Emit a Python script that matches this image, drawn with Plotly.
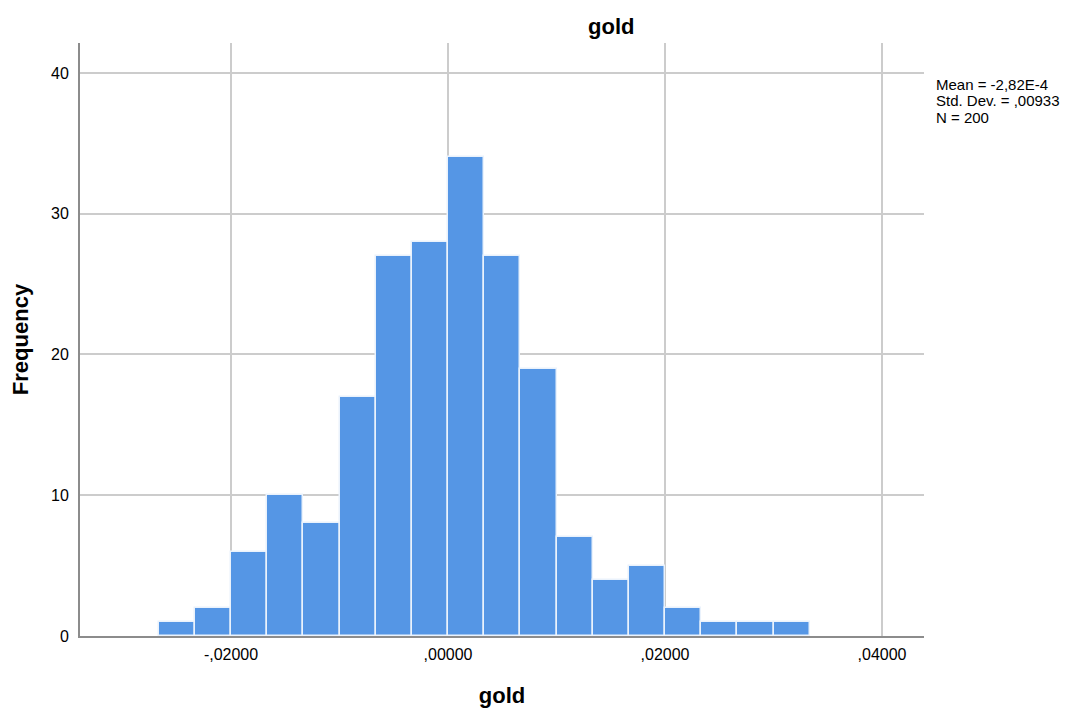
import plotly.graph_objects as go

# Data
bin_start = -0.0266667
bin_width = 0.0033333
counts = [1, 2, 6, 10, 8, 17, 27, 28, 34, 27, 19, 7, 4, 5, 2, 1, 1, 1]
x_tick_vals = [-0.02, 0.0, 0.02, 0.04]
x_tick_text = ["-,02000", ",00000", ",02000", ",04000"]
y_tick_vals = [0, 10, 20, 30, 40]
stats_lines = ["Mean = -2,82E-4", "Std. Dev. = ,00933", "N = 200"]

centers = [bin_start + bin_width * (i + 0.5) for i in range(len(counts))]

fig = go.Figure()
fig.add_trace(go.Bar(
    x=centers, y=counts, width=[bin_width] * len(counts),
    marker=dict(color="#5596E5", line=dict(color="#EAF2FC", width=1.5)),
    showlegend=False, hoverinfo="x+y",
))

font_family = "Liberation Sans, Arial, sans-serif"

# page body has an 8px margin, so the figure is sized/offset accordingly
W, H = 1061, 701
ML, MR, MT, MB = 72, 145, 35, 73
plot_w = W - ML - MR
plot_h = H - MT - MB

annotations = [
    dict(text="<b>gold</b>", x=(611 - 80) / plot_w, y=(636 - 26) / plot_h,
         xref="paper", yref="paper", xanchor="center", yanchor="middle",
         showarrow=False, font=dict(size=22)),
]
for i, line in enumerate(stats_lines):
    annotations.append(dict(
        text=line, xref="paper", yref="paper",
        x=(934 - 80) / plot_w, y=(636 - (84 + 16.5 * i)) / plot_h,
        xanchor="left", yanchor="middle", align="left",
        showarrow=False, font=dict(size=15)))

fig.update_layout(
    width=W, height=H,
    margin=dict(l=ML, r=MR, t=MT, b=MB, autoexpand=False),
    paper_bgcolor="white", plot_bgcolor="white",
    font=dict(family=font_family, color="#000000", size=16),
    bargap=0,
    xaxis=dict(
        range=[-0.03392, 0.04387],
        tickvals=x_tick_vals, ticktext=x_tick_text,
        showgrid=True, gridcolor="#CCCCCC", gridwidth=1.5,
        showline=True, linecolor="#8C8C8C", linewidth=2,
        zeroline=False, ticks="outside", ticklen=3, tickcolor="rgba(0,0,0,0)",
        tickfont=dict(size=16),
        title=dict(text="<b>gold</b>", font=dict(size=22), standoff=25),
    ),
    yaxis=dict(
        range=[0, 42.13],
        tickvals=y_tick_vals,
        showgrid=True, gridcolor="#CCCCCC", gridwidth=1.5,
        showline=True, linecolor="#8C8C8C", linewidth=2,
        zeroline=False, ticks="outside", ticklen=6, tickcolor="rgba(0,0,0,0)",
        tickfont=dict(size=16),
        title=dict(text="<b>Frequency</b>", font=dict(size=22), standoff=19),
    ),
    annotations=annotations,
)

fig.write_html("out.html")
